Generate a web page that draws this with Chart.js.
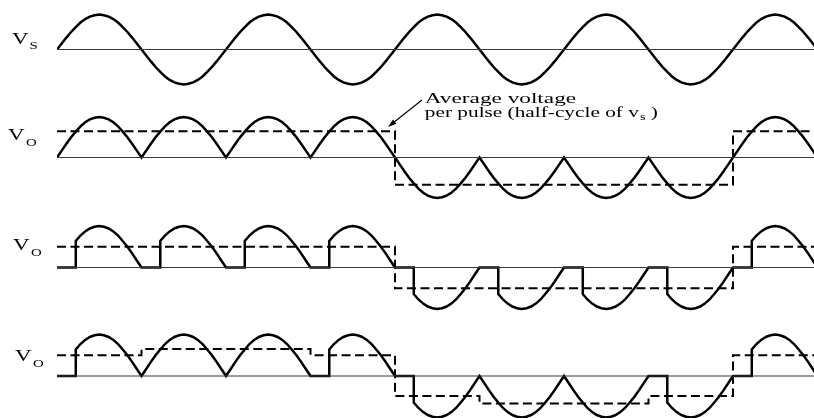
<!DOCTYPE html>
<html>
<head>
<meta charset="utf-8">
<script src="https://cdn.jsdelivr.net/npm/chart.js@4.4.1/dist/chart.umd.min.js"></script>
<style>
    html, body { margin: 0; padding: 0; background: #fff; }
    canvas { display: block; }
</style>
</head>
<body>
<canvas id="waveChart" width="814" height="418"></canvas>
<script>
const humpShape = [0, 0.17, 0.34, 0.5, 0.64, 0.77, 0.87, 0.94, 0.98, 1, 0.98, 0.94, 0.87, 0.77, 0.64, 0.5, 0.34, 0.17, 0];
const stepDeg = 10;

// Nine half-cycles are visible, each 180 degrees long
const halfCycleStart = [0, 180, 360, 540, 720, 900, 1080, 1260, 1440];

// Sign of each half-cycle
const vsPolarity = [1, -1, 1, -1, 1, -1, 1, -1, 1];
const voPolarity = [1, 1, 1, 1, -1, -1, -1, -1, 1];

// Firing delay of each pulse, degrees
const vo1Delay = [0, 0, 0, 0, 0, 0, 0, 0, 0];
const vo2Delay = [40, 40, 40, 40, 40, 40, 40, 40, 40];
const vo3Delay = [40, 0, 0, 40, 40, 0, 0, 40, 40];

// Average voltage per pulse (dashed), in units of the peak
const vo1Average = [0.65, 0.65, 0.65, 0.65, -0.67, -0.67, -0.67, -0.67, 0.65];
const vo2Average = [0.5, 0.5, 0.5, 0.5, -0.5, -0.5, -0.5, -0.5, 0.5];
const vo3Average = [0.5, 0.65, 0.65, 0.5, -0.48, -0.66, -0.66, -0.48, 0.5];

// Annotation text
const noteLines = ['Average voltage', 'per pulse (half-cycle of v'];
const noteSub = 's';
const noteTail = ' )';

// ---- layout (pixels) ----
const plotLeft = 57;
const degPerPx = 180 / 84.5;
const xMax = (814 - plotLeft) * degPerPx;
const panels = [
    { id: 'yS', base: 49.5, amp: 35 },
    { id: 'y1', base: 157.5, amp: 40.5 },
    { id: 'y2', base: 267.5, amp: 41.5 },
    { id: 'y3', base: 376, amp: 41.5 }
];
const panelLabels = [
    { axis: 'yS', sub: 'S', x: 12, v: 0.16, subDx: 17.5, subDy: 5.5 },
    { axis: 'y1', sub: 'O', x: 8, v: 0.43, subDx: 18, subDy: 5.5 },
    { axis: 'y2', sub: 'O', x: 13, v: 0.42, subDx: 18, subDy: 6 },
    { axis: 'y3', sub: 'O', x: 15, v: 0.36, subDx: 18, subDy: 6 }
];
const labelStretch = 1.35;
const noteStretch = [1.55, 1.42];

const pulseTrace = (polarity, delay) => {
    const pts = [];
    halfCycleStart.forEach((start, k) => {
        const d = delay[k];
        if (d > 0) {
            pts.push({ x: start, y: 0 });
            pts.push({ x: start + d, y: 0 });
        }
        humpShape.forEach((v, i) => {
            const deg = i * stepDeg;
            if (deg < d) return;
            pts.push({ x: start + deg, y: polarity[k] * v });
        });
    });
    return pts;
};

const averageTrace = (avg) => {
    const pts = [];
    halfCycleStart.forEach((start, k) => {
        pts.push({ x: start, y: avg[k] }, { x: start + 180, y: avg[k] });
    });
    return pts;
};

const baseline = () => [{ x: 0, y: 0 }, { x: xMax, y: 0 }];

const solid = (data, axis) => ({
    data, yAxisID: axis,
    borderColor: '#000', borderWidth: 2.5, borderJoinStyle: 'miter',
    pointRadius: 0, tension: 0, fill: false
});
const thin = (axis) => ({
    data: baseline(), yAxisID: axis,
    borderColor: '#3a3a3a', borderWidth: 1.2, pointRadius: 0, fill: false
});
const dashed = (data, axis) => ({
    data, yAxisID: axis,
    borderColor: '#000', borderWidth: 2, borderDash: [9, 4.5], borderJoinStyle: 'miter',
    pointRadius: 0, tension: 0, fill: false
});

const scales = {
    x: { type: 'linear', display: false, min: 0, max: xMax }
};
panels.forEach(p => {
    scales[p.id] = { type: 'linear', display: false, min: -(418 - p.base) / p.amp, max: p.base / p.amp };
});

const drawStretched = (ctx, text, x, y, stretch) => {
    ctx.save();
    ctx.translate(x, y);
    ctx.scale(stretch, 1);
    ctx.fillText(text, 0, 0);
    const w = ctx.measureText(text).width * stretch;
    ctx.restore();
    return w;
};

// Labels and the arrow note
const textPlugin = {
    id: 'textPlugin',
    afterDatasetsDraw(chart) {
        const ctx = chart.ctx;
        const xs = chart.scales.x;
        ctx.save();
        ctx.fillStyle = '#000';
        ctx.textBaseline = 'alphabetic';

        panelLabels.forEach(l => {
            const y = chart.scales[l.axis].getPixelForValue(l.v);
            ctx.font = '17px "Liberation Serif", serif';
            drawStretched(ctx, 'V', l.x, y, labelStretch);
            ctx.font = '11px "Liberation Serif", serif';
            drawStretched(ctx, l.sub, l.x + l.subDx, y + l.subDy, labelStretch);
        });

        // note next to the second panel
        const ys = chart.scales.y1;
        const nx = xs.getPixelForValue(783.5);
        ctx.font = '15px "Liberation Serif", serif';
        drawStretched(ctx, noteLines[0], nx, ys.getPixelForValue(1.338), noteStretch[0]);
        const y2 = ys.getPixelForValue(1.007);
        const w = drawStretched(ctx, noteLines[1], nx, y2, noteStretch[1]);
        ctx.font = '10px "Liberation Serif", serif';
        const ws = drawStretched(ctx, noteSub, nx + w + 1, y2 + 3, noteStretch[1]);
        ctx.font = '15px "Liberation Serif", serif';
        drawStretched(ctx, noteTail, nx + w + ws + 1, y2, noteStretch[1]);

        // arrow to the corner of the dashed average
        const tx = xs.getPixelForValue(777.5), ty = ys.getPixelForValue(1.42);
        const hx = xs.getPixelForValue(705), hy = ys.getPixelForValue(0.753);
        const ang = Math.atan2(hy - ty, hx - tx);
        ctx.strokeStyle = '#000';
        ctx.lineWidth = 1.1;
        ctx.beginPath();
        ctx.moveTo(tx, ty);
        ctx.lineTo(hx - 6 * Math.cos(ang), hy - 6 * Math.sin(ang));
        ctx.stroke();
        ctx.beginPath();
        ctx.moveTo(hx, hy);
        ctx.lineTo(hx - 9 * Math.cos(ang - 0.3), hy - 9 * Math.sin(ang - 0.3));
        ctx.lineTo(hx - 9 * Math.cos(ang + 0.3), hy - 9 * Math.sin(ang + 0.3));
        ctx.closePath();
        ctx.fill();
        ctx.restore();
    }
};

new Chart(document.getElementById('waveChart'), {
    type: 'line',
    data: {
        datasets: [
            thin('yS'), solid(pulseTrace(vsPolarity, vo1Delay), 'yS'),
            thin('y1'), solid(pulseTrace(voPolarity, vo1Delay), 'y1'), dashed(averageTrace(vo1Average), 'y1'),
            thin('y2'), solid(pulseTrace(voPolarity, vo2Delay), 'y2'), dashed(averageTrace(vo2Average), 'y2'),
            thin('y3'), solid(pulseTrace(voPolarity, vo3Delay), 'y3'), dashed(averageTrace(vo3Average), 'y3')
        ]
    },
    options: {
        responsive: false,
        animation: false,
        parsing: false,
        normalized: true,
        layout: { padding: { left: plotLeft, right: 0, top: 0, bottom: 0 } },
        scales,
        plugins: {
            legend: { display: false },
            tooltip: { enabled: false }
        },
        events: []
    },
    plugins: [textPlugin]
});
</script>
</body>
</html>
